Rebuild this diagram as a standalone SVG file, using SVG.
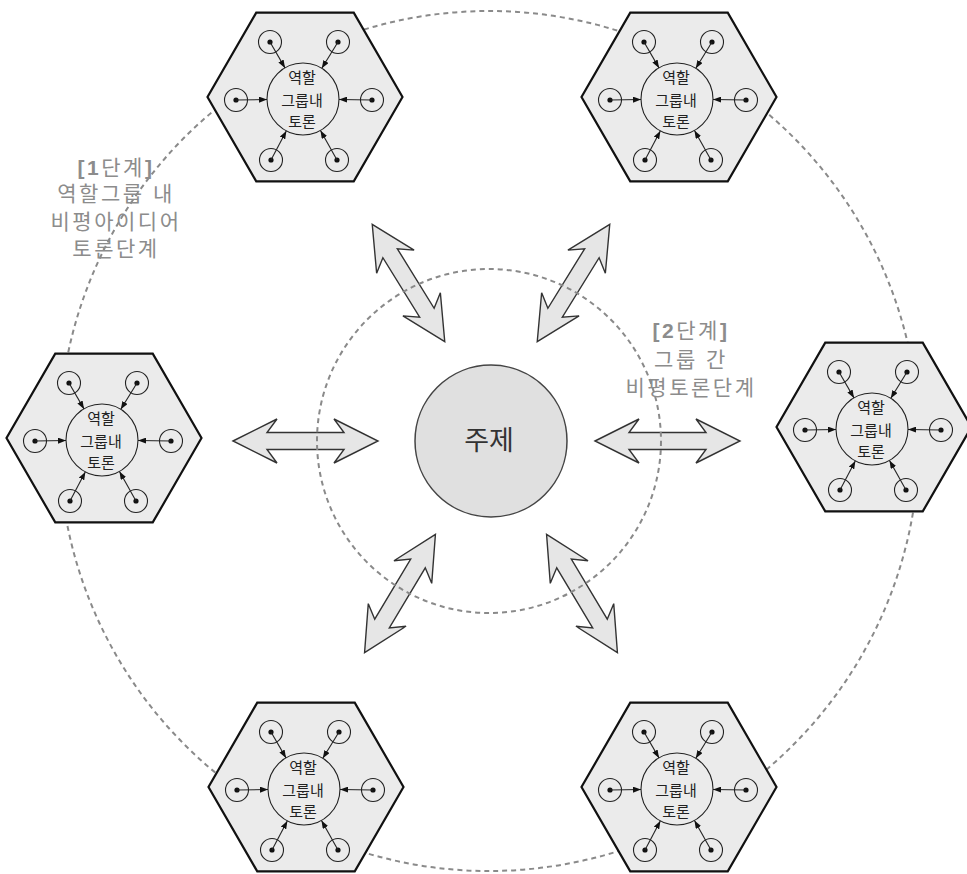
<svg xmlns="http://www.w3.org/2000/svg" xmlns:xlink="http://www.w3.org/1999/xlink" width="967" height="874" viewBox="0 0 967 874">
  <style>
    .orbit { fill: none; stroke: #8a8a8a; stroke-width: 2; stroke-dasharray: 5 4; }
    .flow { fill: #e6e6e6; stroke: #333; stroke-width: 1.4; stroke-linejoin: miter; }
    .hex { fill: #ebebeb; stroke: #111; stroke-width: 2.2; stroke-linejoin: miter; }
    .ring { fill: none; stroke: #222; stroke-width: 1.1; }
    .dot { fill: #111; }
    .spoke { stroke: #222; stroke-width: 1.1; marker-end: url(#tip); }
    .cell-text { font-family: "Liberation Sans", "Noto Sans CJK KR", sans-serif; font-size: 15px; fill: #222; text-anchor: middle; }
    .stage { font-family: "Liberation Sans", "Noto Sans CJK KR", sans-serif; font-size: 21px; fill: #8c8c8c; text-anchor: middle; letter-spacing: 2.5px; }
    .topic { fill: #e0e0e0; stroke: #444; stroke-width: 1.5; }
    .topic-text { font-family: "Liberation Sans", "Noto Sans CJK KR", sans-serif; font-size: 27px; fill: #333; text-anchor: middle; }
  </style>
  <defs>
    <marker id="tip" viewBox="0 0 8 6" refX="8" refY="3" markerWidth="8" markerHeight="6" markerUnits="userSpaceOnUse" orient="auto">
      <path d="M0,0 L8,3 L0,6 z" fill="#111"/>
    </marker>
    <!-- double-headed block arrows -->
    <path id="flow-long" d="M-72.5,0 L-28.5,-22 L-38.5,-8.5 L38.5,-8.5 L28.5,-22 L72.5,0 L28.5,22 L38.5,8.5 L-38.5,8.5 L-28.5,22 Z"/>
    <path id="flow-short" d="M-69,0 L-25,-22 L-35,-8.5 L35,-8.5 L25,-22 L69,0 L25,22 L35,8.5 L-35,8.5 L-25,22 Z"/>
    <!-- one role group: hexagon with six members around the inner discussion circle -->
    <g id="cell">
      <polygon class="hex" points="97.5,0 48.75,84.4 -48.75,84.4 -97.5,0 -48.75,-84.4 48.75,-84.4"/>
      <circle class="ring" cx="-2" cy="2" r="36"/>
      <circle class="ring" cx="-35" cy="-55" r="11.5"/>
      <circle class="ring" cx="33" cy="-55" r="11.5"/>
      <circle class="ring" cx="-69" cy="3" r="11.5"/>
      <circle class="ring" cx="67" cy="3" r="11.5"/>
      <circle class="ring" cx="-34" cy="63" r="11.5"/>
      <circle class="ring" cx="32" cy="63" r="11.5"/>
      <circle class="dot" cx="-35" cy="-55" r="2.6"/>
      <circle class="dot" cx="33" cy="-55" r="2.6"/>
      <circle class="dot" cx="-69" cy="3" r="2.6"/>
      <circle class="dot" cx="67" cy="3" r="2.6"/>
      <circle class="dot" cx="-34" cy="63" r="2.6"/>
      <circle class="dot" cx="32" cy="63" r="2.6"/>
      <line class="spoke" x1="-35" y1="-55" x2="-20" y2="-29.1"/>
      <line class="spoke" x1="33" y1="-55" x2="16.8" y2="-28.7"/>
      <line class="spoke" x1="-69" y1="3" x2="-38" y2="2.5"/>
      <line class="spoke" x1="67" y1="3" x2="34" y2="2.5"/>
      <line class="spoke" x1="-34" y1="63" x2="-18.7" y2="33.9"/>
      <line class="spoke" x1="32" y1="63" x2="15.5" y2="33.5"/>
    </g>
  </defs>

  <rect width="967" height="874" fill="#ffffff"/>

  <!-- connectors between the topic and the role groups -->
  <g id="connectors" class="flow">
    <use xlink:href="#flow-short" transform="translate(408.5,283) rotate(58.3)"/>
    <use xlink:href="#flow-short" transform="translate(573.5,283) rotate(121.7)"/>
    <use xlink:href="#flow-long" transform="translate(305.5,441)"/>
    <use xlink:href="#flow-long" transform="translate(667.5,441)"/>
    <use xlink:href="#flow-short" transform="translate(400,593.5) rotate(120.9)"/>
    <use xlink:href="#flow-short" transform="translate(582,593.5) rotate(59.1)"/>
  </g>

  <!-- stage boundaries -->
  <g id="orbits">
    <circle class="orbit" cx="489" cy="441" r="430"/>
    <circle class="orbit" cx="489" cy="441" r="172"/>
  </g>

  <!-- role groups -->
  <g id="group-top-left" transform="translate(305,97)">
    <use xlink:href="#cell"/>
    <text class="cell-text" x="-3" y="-14">역할</text>
    <text class="cell-text" x="-3" y="9">그룹내</text>
    <text class="cell-text" x="-3" y="30">토론</text>
  </g>
  <g id="group-top-right" transform="translate(679,97)">
    <use xlink:href="#cell"/>
    <text class="cell-text" x="-3" y="-14">역할</text>
    <text class="cell-text" x="-3" y="9">그룹내</text>
    <text class="cell-text" x="-3" y="30">토론</text>
  </g>
  <g id="group-left" transform="translate(104,438)">
    <use xlink:href="#cell"/>
    <text class="cell-text" x="-3" y="-14">역할</text>
    <text class="cell-text" x="-3" y="9">그룹내</text>
    <text class="cell-text" x="-3" y="30">토론</text>
  </g>
  <g id="group-right" transform="translate(874,427)">
    <use xlink:href="#cell"/>
    <text class="cell-text" x="-3" y="-14">역할</text>
    <text class="cell-text" x="-3" y="9">그룹내</text>
    <text class="cell-text" x="-3" y="30">토론</text>
  </g>
  <g id="group-bottom-left" transform="translate(306,787)">
    <use xlink:href="#cell"/>
    <text class="cell-text" x="-3" y="-14">역할</text>
    <text class="cell-text" x="-3" y="9">그룹내</text>
    <text class="cell-text" x="-3" y="30">토론</text>
  </g>
  <g id="group-bottom-right" transform="translate(679,787)">
    <use xlink:href="#cell"/>
    <text class="cell-text" x="-3" y="-14">역할</text>
    <text class="cell-text" x="-3" y="9">그룹내</text>
    <text class="cell-text" x="-3" y="30">토론</text>
  </g>

  <!-- central topic -->
  <g id="topic">
    <circle class="topic" cx="491" cy="441" r="76"/>
    <text class="topic-text" x="489" y="450">주제</text>
  </g>

  <!-- stage captions -->
  <g id="stage-1">
    <text class="stage" x="116" y="175"><tspan font-weight="bold">[1</tspan>단계<tspan font-weight="bold">]</tspan></text>
    <text class="stage" x="116" y="201">역할그룹 내</text>
    <text class="stage" x="116" y="229">비평아이디어</text>
    <text class="stage" x="116" y="256">토론단계</text>
  </g>
  <g id="stage-2">
    <text class="stage" x="691" y="338"><tspan font-weight="bold">[2</tspan>단계<tspan font-weight="bold">]</tspan></text>
    <text class="stage" x="691" y="367">그룹 간</text>
    <text class="stage" x="691" y="395">비평토론단계</text>
  </g>
</svg>
